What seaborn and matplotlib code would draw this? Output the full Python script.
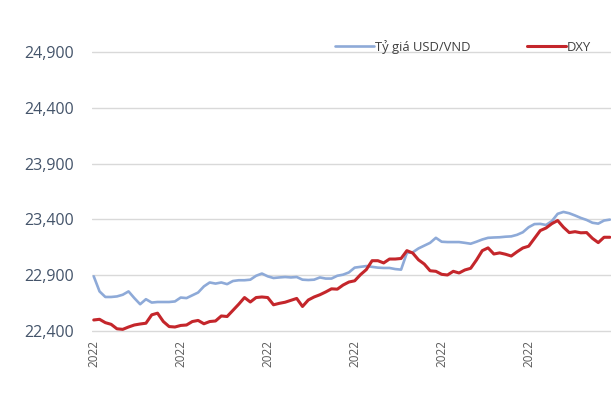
import pandas as pd
import matplotlib.pyplot as plt
import seaborn as sns

# one reading every 2 days, from early January 2022
dates = pd.date_range('2022-01-04', periods=90, freq='2D')

usd_vnd = [
    22890, 22755, 22705, 22705, 22710, 22725, 22755, 22695, 22640, 22685,
    22655, 22660, 22660, 22660, 22665, 22700, 22695, 22720, 22745, 22800,
    22835, 22825, 22835, 22820, 22848, 22855, 22855, 22860, 22895, 22915,
    22890, 22875, 22880, 22884, 22880, 22884, 22860, 22857, 22860, 22880,
    22870, 22870, 22895, 22905, 22925, 22968, 22975, 22982, 22975, 22968,
    22965, 22965, 22955, 22950, 23100, 23105, 23140, 23165, 23190, 23235,
    23200, 23197, 23197, 23197, 23190, 23182, 23200, 23220, 23235, 23238,
    23240, 23245, 23248, 23262, 23285, 23330, 23358, 23360, 23350, 23385,
    23450, 23467, 23455, 23435, 23413, 23395, 23370, 23362, 23390, 23398,
]

# DXY drawn on the same visual scale as the exchange rate
dxy = [
    22499, 22505, 22475, 22460, 22420, 22415, 22436, 22454, 22463, 22470,
    22545, 22560, 22485, 22440, 22436, 22450, 22454, 22485, 22495, 22465,
    22485, 22490, 22535, 22530, 22585, 22640, 22700, 22660, 22700, 22705,
    22700, 22635, 22648, 22658, 22675, 22692, 22620, 22678, 22705, 22725,
    22750, 22778, 22775, 22812, 22839, 22850, 22905, 22950, 23030, 23030,
    23010, 23045, 23045, 23050, 23120, 23099, 23038, 23000, 22940, 22935,
    22908, 22902, 22935, 22920, 22947, 22962, 23036, 23120, 23145, 23090,
    23100, 23088, 23072, 23110, 23144, 23160, 23230, 23300, 23323, 23362,
    23390, 23330, 23282, 23290, 23280, 23282, 23230, 23192, 23240, 23240,
]

y_ticks = [22400, 22900, 23400, 23900, 24400, 24900]

df = pd.DataFrame({'date': dates, 'usd_vnd': usd_vnd, 'dxy': dxy})

sns.set_theme(style='white')
plt.rcParams['font.family'] = ['Open Sans', 'DejaVu Sans']

fig = plt.figure(figsize=(6.11, 3.93), dpi=100)
ax = fig.add_axes([92 / 611, 1 - 332.7 / 393, 1 - 92 / 611, (332.7 - 50.3) / 393])

sns.lineplot(data=df, x='date', y='usd_vnd', ax=ax, color='#8eaad8',
             linewidth=1.9, label='Tỷ giá USD/VND')
sns.lineplot(data=df, x='date', y='dxy', ax=ax, color='#c4262b',
             linewidth=2.2, label='DXY')

ax.set_ylim(22385, 24915)
ax.set_xlim(dates[0] - pd.Timedelta(days=0.6), dates[0] + pd.Timedelta(days=178.4))
ax.set_yticks(y_ticks)
ax.set_yticklabels([f'{v:,}' for v in y_ticks])
ax.yaxis.grid(True, color='#d9d9d9', linewidth=1)
ax.xaxis.grid(False)
for s in ax.spines.values():
    s.set_visible(False)
ax.set_axisbelow(True)

# only the year part of the date labels shows in the source image
tick_dates = dates[::15]
ax.set_xticks(tick_dates)
ax.set_xticklabels([d.strftime('%Y') for d in tick_dates], rotation=90,
                   fontsize=8.5, color='#595959')
ax.tick_params(axis='y', length=0, pad=13, labelsize=11.5, labelcolor='#44546a')
ax.tick_params(axis='x', length=0, pad=5)
ax.set_xlabel('')
ax.set_ylabel('')

ax.legend(loc='center right', bbox_to_anchor=(603 / 611, 1 - 47 / 393),
          bbox_transform=fig.transFigure, ncol=2, frameon=False, fontsize=9.4,
          handlelength=3.0, handletextpad=0.1, columnspacing=4.3,
          labelcolor='#404040')

fig.savefig('out.png', dpi=100)
